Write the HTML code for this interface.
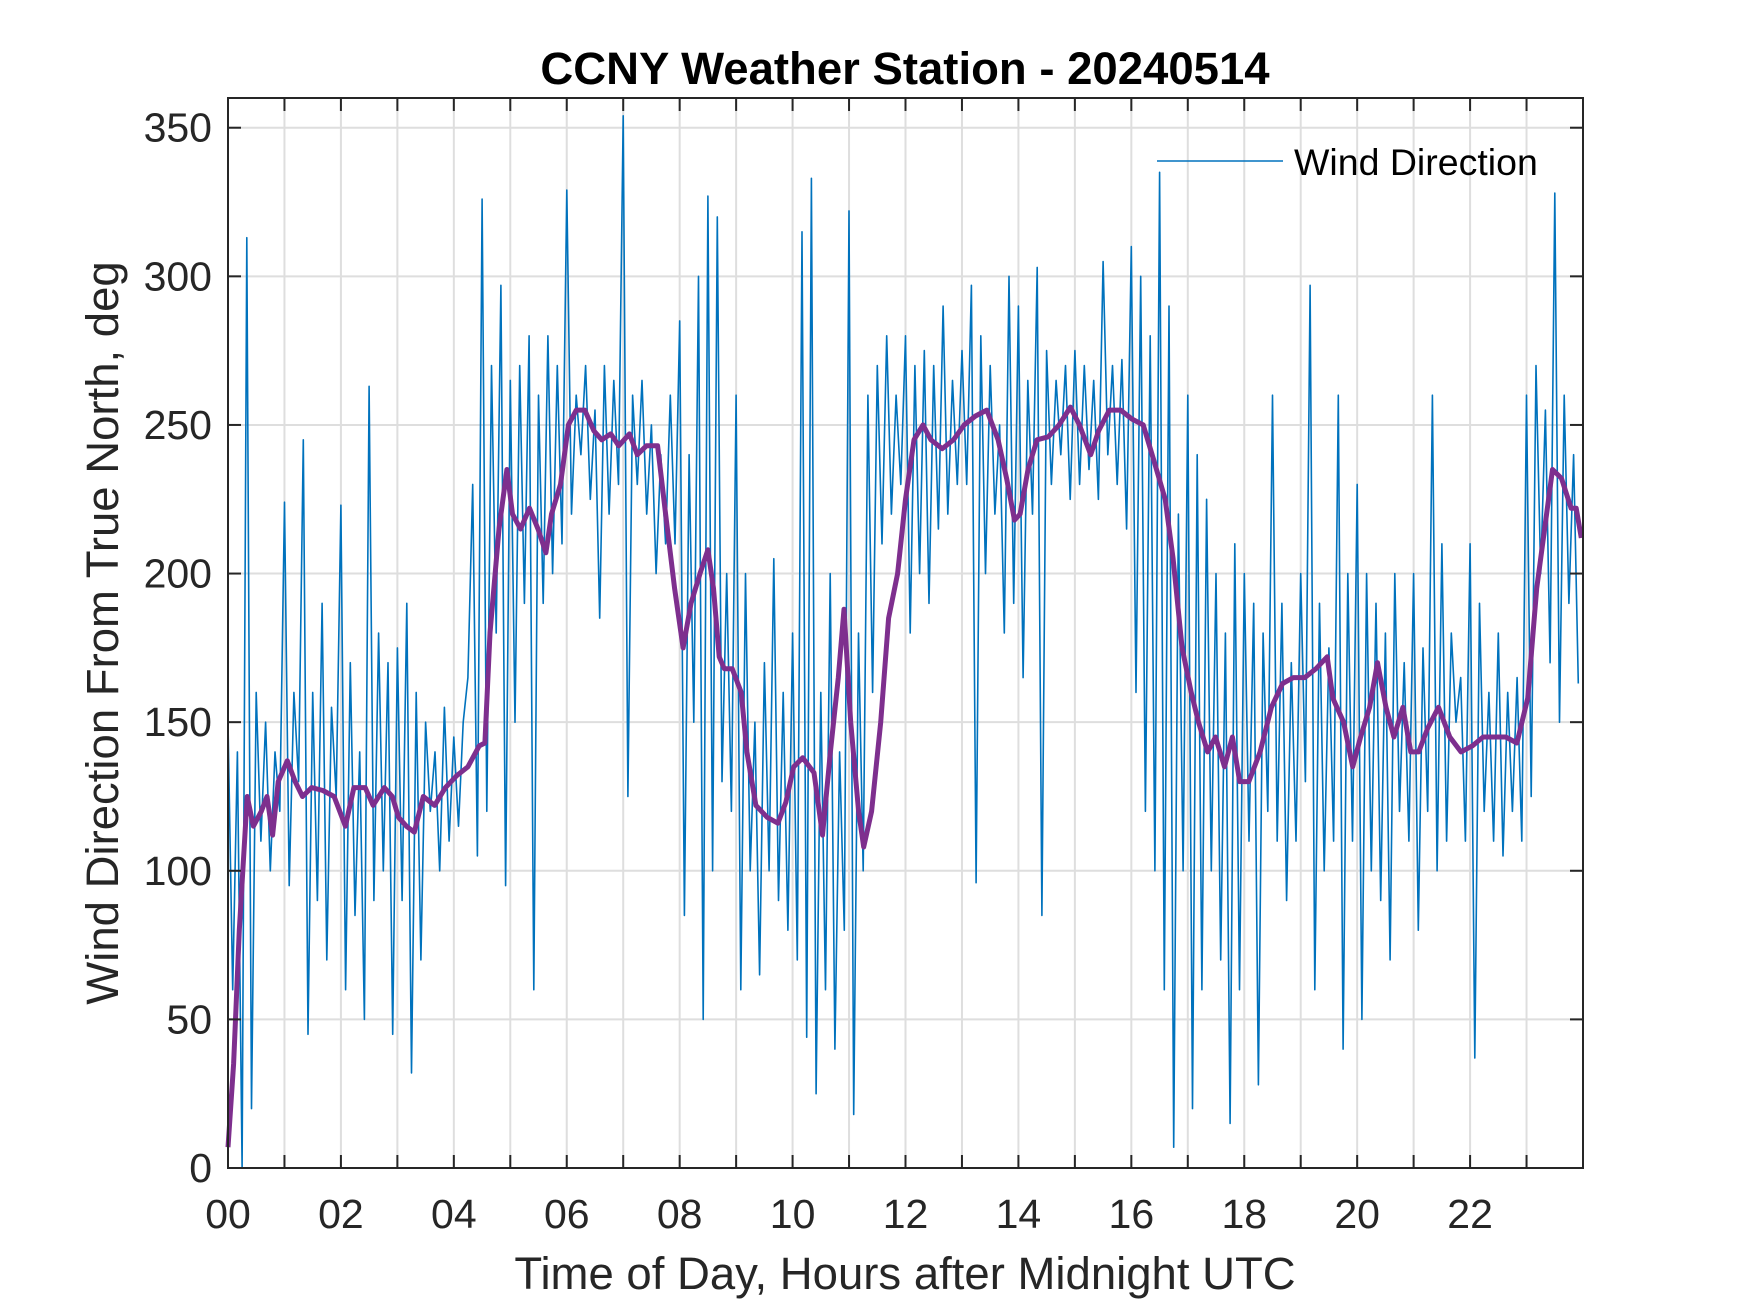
<!DOCTYPE html>
<html><head><meta charset="utf-8"><style>
html,body{margin:0;padding:0;background:#fff;}
svg{display:block;font-family:"Liberation Sans",Arial,sans-serif;}
</style></head><body>
<svg id="chart" width="1750" height="1313" viewBox="0 0 1750 1313">
<rect x="0" y="0" width="1750" height="1313" fill="#fff"/>
<text x="905" y="84" text-anchor="middle" font-size="45.5" font-weight="bold" fill="#000">CCNY Weather Station - 20240514</text>
<g id="grid"></g>
<g id="series"></g>
<g id="axes"></g>
<g>
<line x1="1157" y1="161" x2="1283" y2="161" stroke="#0072bd" stroke-width="1.6"/>
<text x="1294" y="175" font-size="37.5" fill="#000">Wind Direction</text>
</g>
<text x="905" y="1289" text-anchor="middle" font-size="45.5" fill="#262626">Time of Day, Hours after Midnight UTC</text>
<text transform="translate(118,633) rotate(-90)" text-anchor="middle" font-size="45.5" fill="#262626">Wind Direction From True North, deg</text>
</svg>
<script>
const xTicks=[0,2,4,6,8,10,12,14,16,18,20,22];
const xTickLabels=["00","02","04","06","08","10","12","14","16","18","20","22"];
const yTicks=[0,50,100,150,200,250,300,350];
const blueValues=[
150,60,140,0,313,20,160,110,150,100,140,120,
224,95,160,130,245,45,160,90,190,70,155,125,
223,60,170,85,140,50,263,90,180,100,170,45,
175,90,190,32,160,70,150,120,140,100,155,110,
145,115,150,165,230,105,326,120,270,180,297,95,
265,150,270,190,280,60,260,190,280,200,270,210,
329,220,260,240,270,225,255,185,270,220,265,230,
354,125,260,230,265,220,250,200,240,210,260,210,
285,85,240,150,300,50,327,100,320,130,200,120,
260,60,200,100,150,65,170,100,205,90,160,80,
180,70,315,44,333,25,160,60,200,40,140,80,
322,18,180,100,260,160,270,210,280,220,260,230,
280,180,270,200,275,190,270,215,290,220,265,230,
275,230,297,96,280,200,270,220,250,180,300,190,
290,165,265,220,303,85,275,230,265,240,270,225,
275,230,270,235,265,225,305,240,270,230,272,215,
310,160,300,120,280,100,335,60,290,7,220,100,
260,20,240,60,225,100,200,70,180,15,210,60,
200,110,190,28,180,120,260,110,190,90,170,110,
200,130,297,60,190,100,175,110,260,40,200,110,
230,50,200,100,190,90,180,70,200,120,170,110,
200,80,175,120,260,100,210,110,180,150,165,110,
210,37,190,120,160,110,180,105,160,120,165,110,
260,125,270,200,255,170,328,150,260,190,240,163];
const purpleHours=[0,.10,.20,.34,.45,.59,.69,.79,.89,1.05,1.19,1.32,1.48,1.68,1.88,2.08,2.23,2.43,2.57,2.77,2.91,3.02,3.16,3.30,3.46,3.66,3.85,4.05,4.25,4.45,4.55,4.64,4.80,4.94,5.04,5.18,5.34,5.49,5.63,5.73,5.89,6.03,6.17,6.32,6.48,6.62,6.78,6.92,7.11,7.25,7.41,7.61,7.75,7.91,8.06,8.20,8.36,8.50,8.60,8.70,8.79,8.93,9.09,9.19,9.35,9.55,9.74,9.88,10.02,10.18,10.38,10.53,10.67,10.81,10.91,11.03,11.17,11.26,11.40,11.56,11.70,11.86,12.00,12.15,12.31,12.45,12.65,12.85,13.04,13.24,13.44,13.64,13.79,13.93,14.03,14.17,14.33,14.53,14.72,14.92,15.08,15.28,15.42,15.61,15.81,16.01,16.21,16.40,16.60,16.74,16.90,17.06,17.19,17.35,17.49,17.65,17.79,17.92,18.08,18.28,18.48,18.68,18.87,19.07,19.27,19.47,19.57,19.76,19.92,20.06,20.22,20.36,20.51,20.65,20.81,20.95,21.09,21.25,21.44,21.64,21.84,22.04,22.23,22.43,22.63,22.83,23.02,23.18,23.32,23.46,23.62,23.79,23.88,23.97];
const purpleValues=[7,35,80,125,115,120,125,112,130,137,130,125,128,127,125,115,128,128,122,128,125,118,115,113,125,122,128,132,135,142,143,180,215,235,220,215,222,215,207,220,230,250,255,255,248,245,247,243,247,240,243,243,220,195,175,190,200,208,195,172,168,168,160,140,122,118,116,123,135,138,133,112,140,165,188,150,120,108,120,150,185,200,225,245,250,245,242,245,250,253,255,245,232,218,220,235,245,246,250,256,250,240,248,255,255,252,250,238,225,205,175,160,150,140,145,135,145,130,130,140,155,163,165,165,168,172,158,150,135,145,155,170,155,145,155,140,140,148,155,145,140,142,145,145,145,143,158,195,215,235,232,222,222,212];

const NS='http://www.w3.org/2000/svg';
const L=228,R=1583,T=98,B=1168;
const X=h=>L+(h/24)*(R-L);
const Y=v=>B-(v/360)*(B-T);
function mk(tag,attrs,parent){const e=document.createElementNS(NS,tag);for(const k in attrs)e.setAttribute(k,attrs[k]);parent.appendChild(e);return e;}
const grid=document.getElementById('grid'),series=document.getElementById('series'),axes=document.getElementById('axes');
for(let h=1;h<24;h++){
  const g=mk('line',{x1:X(h),x2:X(h),y1:T,y2:B,stroke:'#dedede','stroke-width':2},grid);
  
  
}
yTicks.forEach(v=>{
  if(v===0)return;
  const g=mk('line',{x1:L,x2:R,y1:Y(v),y2:Y(v),stroke:'#dedede','stroke-width':2},grid);
  
  
});
let d='';
blueValues.forEach((v,i)=>{d+=(i?'L':'M')+X(i*24/blueValues.length).toFixed(1)+','+Y(v).toFixed(1);});
const bl=mk('path',{d:d,fill:'none',stroke:'#0072bd','stroke-width':1.6,'stroke-linejoin':'round'},series);


let d2='';
purpleValues.forEach((v,i)=>{d2+=(i?'L':'M')+X(purpleHours[i]).toFixed(1)+','+Y(v).toFixed(1);});
const pl=mk('path',{d:d2,fill:'none',stroke:'#7e2f8e','stroke-width':5,'stroke-linejoin':'round'},series);


const box=mk('rect',{x:L,y:T,width:R-L,height:B-T,fill:'none',stroke:'#262626','stroke-width':2},axes);


for(let h=1;h<24;h++){
  mk('line',{x1:X(h),x2:X(h),y1:B,y2:B-13,stroke:'#262626','stroke-width':2},axes);
  mk('line',{x1:X(h),x2:X(h),y1:T,y2:T+13,stroke:'#262626','stroke-width':2},axes);
}
xTicks.forEach((h,i)=>{
  const t=mk('text',{x:X(h),y:1228,'text-anchor':'middle','font-size':41,fill:'#262626'},axes);
  t.textContent=xTickLabels[i];
  
  
});
yTicks.forEach(v=>{
  mk('line',{x1:L,x2:L+13,y1:Y(v),y2:Y(v),stroke:'#262626','stroke-width':2},axes);
  mk('line',{x1:R,x2:R-13,y1:Y(v),y2:Y(v),stroke:'#262626','stroke-width':2},axes);
  const t=mk('text',{x:212,y:Y(v)+14,'text-anchor':'end','font-size':41,fill:'#262626'},axes);
  t.textContent=String(v);
  
  
});
</script>
</body></html>
